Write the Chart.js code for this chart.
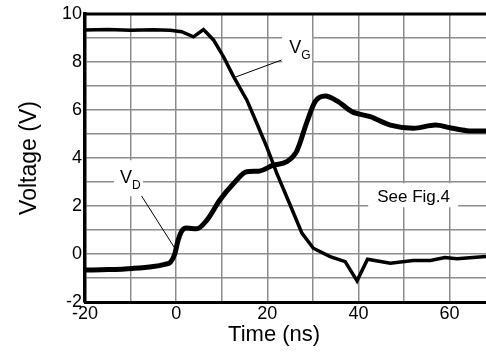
<!DOCTYPE html>
<html><head><meta charset="utf-8">
<script src="https://cdn.jsdelivr.net/npm/chart.js@4"></script>
<style>html,body{margin:0;padding:0;background:#fff;overflow:hidden}#wrap{width:486px;height:352px;position:relative}</style>
</head><body><div id="wrap"><canvas id="c"></canvas></div>
<script>
// V_G (gate voltage)
const vgTime = [-20, -15, -10, -5, -1.3, 1.2, 3.8, 6.0, 8.2, 10.4, 12.6, 15.5, 17.7, 19.9, 22.1, 25, 27.6, 30.1, 33.8, 37.1, 39.7, 42, 47, 52, 55.8, 59, 61.6, 68];
const vgVolt = [9.33, 9.35, 9.32, 9.34, 9.32, 9.26, 9.05, 9.35, 8.92, 8.22, 7.39, 6.42, 5.45, 4.45, 3.36, 2.05, 0.87, 0.24, -0.11, -0.32, -1.12, -0.22, -0.38, -0.27, -0.27, -0.15, -0.2, -0.1];
// V_D (drain voltage)
const vdTime = [-20, -15, -9.5, -5, -2.5, -1.3, -0.3, 0.4, 1.2, 2.3, 4.5, 6.7, 9.6, 12.6, 15.5, 18.1, 21.3, 24.3, 26.5, 28.7, 30.5, 32.7, 35.3, 38.6, 42.6, 47, 52.1, 56.9, 60.1, 63.8, 68];
const vdVolt = [-0.67, -0.65, -0.6, -0.52, -0.43, -0.35, 0.0, 0.55, 0.95, 1.08, 1.05, 1.4, 2.25, 2.94, 3.43, 3.45, 3.7, 3.85, 4.3, 5.5, 6.35, 6.58, 6.38, 5.93, 5.72, 5.37, 5.24, 5.37, 5.26, 5.14, 5.12];

const xTicks = [-20, -10, 0, 10, 20, 30, 40, 50, 60];
const xLabeled = [-20, 0, 20, 40, 60];
const yTicks = [-2, -1, 0, 1, 2, 3, 4, 5, 6, 7, 8, 9, 10];
const yLabeled = [-2, 0, 2, 4, 6, 8, 10];

const FONT = "'Liberation Sans', Arial, sans-serif";

// annotation anchors (data coords of text baseline start)
const notes = [
  {main: 'V', sub: 'G', x: 24.8, y: 8.375, pad: [7, 23, 16, 10], leader: [23.1, 8.08, 12.85, 7.36]},
  {main: 'V', sub: 'D', x: -12.31, y: 2.95, pad: [6, 23, 23, 13], leader: [-7.6, 2.42, -0.29, 0.24]},
  {main: 'See Fig.4', sub: '', x: 44.12, y: 2.155, pad: [9, 81, 19, 5], leader: null}
];

const pts = (xs, ys) => xs.map((v, i) => ({x: v, y: ys[i]}));

const annot = {
  id: 'annot',
  beforeDatasetsDraw(chart) {
    const {ctx, scales: {x, y}} = chart;
    ctx.save();
    ctx.fillStyle = '#fff';
    notes.forEach(n => {
      const px = x.getPixelForValue(n.x), py = y.getPixelForValue(n.y);
      ctx.fillRect(px - n.pad[0], py - n.pad[2], n.pad[0] + n.pad[1], n.pad[2] + n.pad[3]);
    });
    ctx.strokeStyle = '#000';
    ctx.lineWidth = 1;
    notes.forEach(n => {
      if (!n.leader) return;
      ctx.beginPath();
      ctx.moveTo(x.getPixelForValue(n.leader[0]), y.getPixelForValue(n.leader[1]));
      ctx.lineTo(x.getPixelForValue(n.leader[2]), y.getPixelForValue(n.leader[3]));
      ctx.stroke();
    });
    ctx.fillStyle = '#000';
    ctx.textBaseline = 'alphabetic';
    ctx.textAlign = 'left';
    notes.forEach(n => {
      const px = x.getPixelForValue(n.x), py = y.getPixelForValue(n.y);
      ctx.font = (n.sub ? '18px ' : '17px ') + FONT;
      ctx.fillText(n.main, px, py);
      if (n.sub) {
        const w = ctx.measureText(n.main).width;
        ctx.font = '12px ' + FONT;
        ctx.fillText(n.sub, px + w, py + 6);
      }
    });
    ctx.restore();
  },
  afterDraw(chart) {
    const {ctx, chartArea: a, scales: {x}} = chart;
    ctx.save();
    ctx.strokeStyle = '#000';
    ctx.lineWidth = 3;
    ctx.beginPath();
    ctx.moveTo(a.left - 1.5, a.top);
    ctx.lineTo(a.right, a.top);
    ctx.stroke();
    ctx.fillStyle = '#000';
    ctx.font = '22px ' + FONT;
    ctx.textAlign = 'center';
    ctx.textBaseline = 'alphabetic';
    ctx.fillText('Time (ns)', x.getPixelForValue(21.5), 341);
    ctx.restore();
  }
};

new Chart(document.getElementById('c'), {
  type: 'line',
  data: {
    datasets: [
      {label: 'VG', data: pts(vgTime, vgVolt), borderColor: '#000', borderWidth: 3.5, pointRadius: 0, tension: 0, fill: false},
      {label: 'VD', data: pts(vdTime, vdVolt), borderColor: '#000', borderWidth: 5, pointRadius: 0, cubicInterpolationMode: 'monotone', fill: false}
    ]
  },
  options: {
    responsive: true,
    maintainAspectRatio: false,
    animation: false,
    layout: {padding: {top: 14, left: 0, right: 0, bottom: 0}},
    plugins: {legend: {display: false}, tooltip: {enabled: false}},
    scales: {
      x: {
        type: 'linear', min: -20, max: 68,
        afterBuildTicks: s => { s.ticks = xTicks.map(v => ({value: v})); },
        afterFit: s => { s.height = 50; },
        ticks: {
          color: '#000', font: {family: FONT, size: 18}, padding: 1, maxRotation: 0, autoSkip: false,
          callback: v => xLabeled.includes(v) ? String(v) : ''
        },
        grid: {color: '#8c8c8c', lineWidth: 1.5, drawTicks: false},
        border: {color: '#000', width: 3}
      },
      y: {
        type: 'linear', min: -2, max: 10,
        afterBuildTicks: s => { s.ticks = yTicks.map(v => ({value: v})); },
        afterFit: s => { s.width = 85; },
        ticks: {
          color: '#000', font: {family: FONT, size: 18}, padding: 3, autoSkip: false,
          callback: v => yLabeled.includes(v) ? String(v) : ''
        },
        grid: {color: '#8c8c8c', lineWidth: 1.5, drawTicks: false},
        border: {color: '#000', width: 3.5},
        title: {display: true, text: 'Voltage (V)', color: '#000', font: {family: FONT, size: 23}, padding: {top: 16, bottom: 0}}
      }
    }
  },
  plugins: [annot]
});
</script></body></html>
